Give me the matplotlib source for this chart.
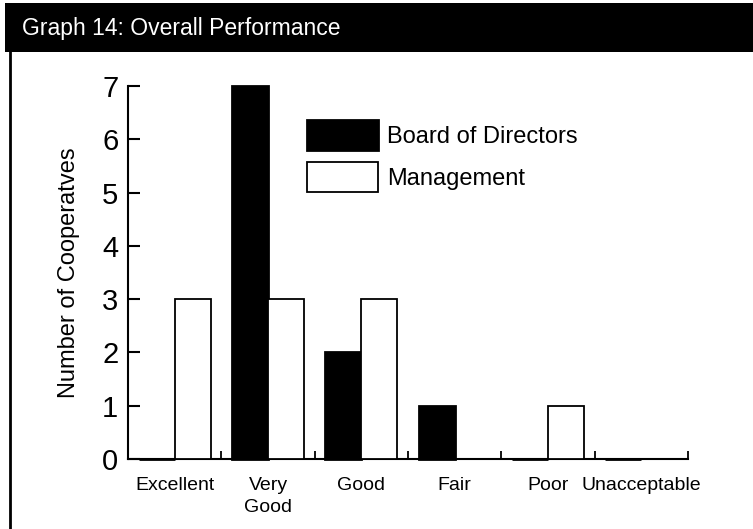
import matplotlib.pyplot as plt
import numpy as np
from matplotlib.patches import Rectangle
from matplotlib.lines import Line2D

# data
categories = ["Excellent", "Very\nGood", "Good", "Fair", "Poor", "Unacceptable"]
board = [0, 7, 2, 1, 0, 0]
management = [3, 3, 3, 0, 1, 0]
series_names = ["Board of Directors", "Management"]
y_ticks = [0, 1, 2, 3, 4, 5, 6, 7]

plt.rcParams['font.family'] = ['Liberation Sans', 'DejaVu Sans']

fig = plt.figure(figsize=(7.53, 5.29), dpi=100)

# black header band with title
fig.patches.append(Rectangle((5 / 753, 1 - 52 / 529), 748 / 753, 49 / 529,
                             transform=fig.transFigure, facecolor='black',
                             edgecolor='none', zorder=0))
fig.text(22 / 753, 1 - 28 / 529, "Graph 14: Overall Performance", color='white',
         fontsize=16.5, va='center', ha='left')
# left frame line
fig.add_artist(Line2D([10 / 753, 10 / 753], [0, 1 - 52 / 529],
                      transform=fig.transFigure, color='black', lw=2))

ax = fig.add_axes([128 / 753, 70 / 529, 560 / 753, 373 / 529])

x = np.arange(len(categories))
w = 0.385
ax.bar(x - w / 2, board, width=w, color='black', edgecolor='black',
       linewidth=2, label=series_names[0], clip_on=False, zorder=3)
ax.bar(x + w / 2, management, width=w, color='white', edgecolor='black',
       linewidth=1.3, label=series_names[1], clip_on=False, zorder=3)

ax.set_xlim(-0.5, len(categories) - 0.5)
ax.set_ylim(0, 7)

for s in ['top', 'right']:
    ax.spines[s].set_visible(False)
for s in ['left', 'bottom']:
    ax.spines[s].set_linewidth(1.5)

ax.set_yticks(y_ticks)
ax.set_yticklabels([str(v) for v in y_ticks], fontsize=21)
ax.tick_params(axis='y', direction='in', length=8.5, width=1.5, pad=7)

ax.set_xticks(x)
ax.set_xticklabels(categories, fontsize=14, linespacing=1.4)
ax.tick_params(axis='x', which='major', length=0, pad=13)
ax.set_xticks(np.arange(-0.5, len(categories)), minor=True)
ax.tick_params(axis='x', which='minor', direction='in', length=6, width=1.3)

ax.set_ylabel("Number of Cooperatves", fontsize=17)
ax.yaxis.set_label_coords(-0.085, 0.5)

ax.legend(loc='upper left', bbox_to_anchor=(307 / 753, 1 - 120 / 529),
          bbox_transform=fig.transFigure, frameon=False, fontsize=17,
          handlelength=3.0, handleheight=1.6, labelspacing=0.5,
          handletextpad=0.4, borderpad=0, borderaxespad=0)

fig.savefig("out.png", dpi=100)
